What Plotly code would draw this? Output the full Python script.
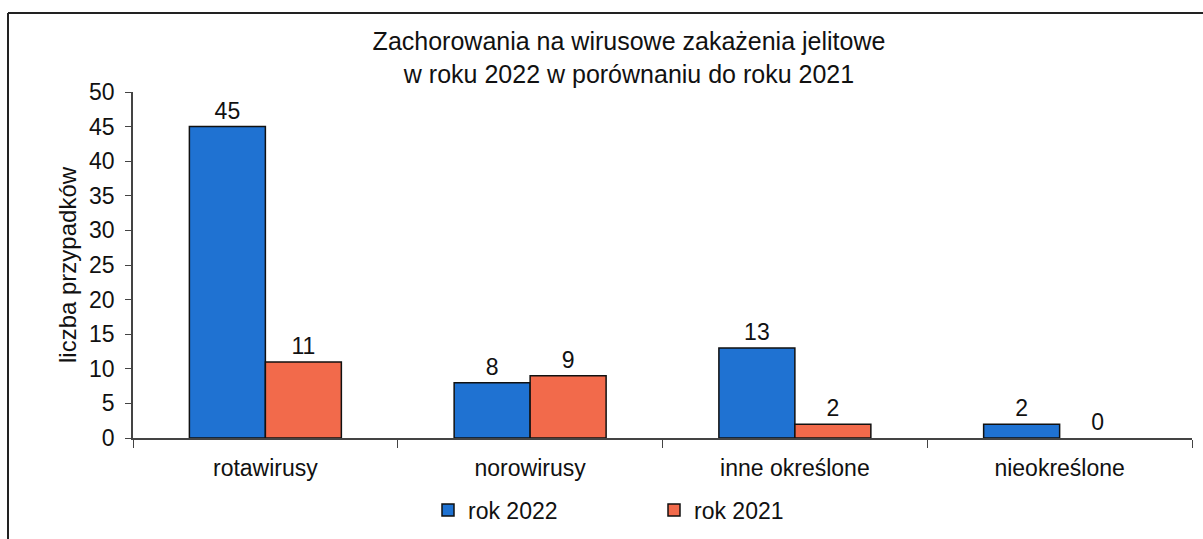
import plotly.graph_objects as go

categories = ["rotawirusy", "norowirusy", "inne określone", "nieokreślone"]
rok_2022 = [45, 8, 13, 2]
rok_2021 = [11, 9, 2, 0]
series_names = ["rok 2022", "rok 2021"]
y_ticks = [0, 5, 10, 15, 20, 25, 30, 35, 40, 45, 50]

FONT = "Liberation Sans, Arial, sans-serif"
BLUE = "#1f72d2"
ORANGE = "#f26a4b"

W, H = 1203, 539
L, R, T, B = 133, 11, 92, 101
pw, ph = W - L - R, H - T - B


def outline_widths(values):
    return [1.5 if v else 0 for v in values]


fig = go.Figure()
fig.add_trace(go.Bar(
    x=categories, y=rok_2022, name=series_names[0],
    marker=dict(color=BLUE, line=dict(color="#111111", width=outline_widths(rok_2022))),
    text=rok_2022, textposition="outside", cliponaxis=False,
    textfont=dict(size=23, color="#111111", family=FONT),
))
fig.add_trace(go.Bar(
    x=categories, y=rok_2021, name=series_names[1],
    marker=dict(color=ORANGE, line=dict(color="#111111", width=outline_widths(rok_2021))),
    text=rok_2021, textposition="outside", cliponaxis=False,
    textfont=dict(size=23, color="#111111", family=FONT),
))


def px_x(p):
    return (p - L) / pw


def px_y(p):
    return (H - B - p) / ph


# outer border (top and left visible)
fig.add_shape(type="line", xref="paper", yref="paper",
              x0=px_x(8), x1=px_x(1215), y0=px_y(13), y1=px_y(13),
              line=dict(color="#222222", width=2))
fig.add_shape(type="line", xref="paper", yref="paper",
              x0=px_x(8), x1=px_x(8), y0=px_y(13), y1=px_y(560),
              line=dict(color="#222222", width=2))

fig.update_layout(
    width=W, height=H,
    margin=dict(l=L, r=R, t=T, b=B, autoexpand=False),
    paper_bgcolor="white", plot_bgcolor="white",
    font=dict(family=FONT, size=23, color="#111111"),
    barmode="group", bargap=0.426, bargroupgap=0,
    title=dict(
        text="Zachorowania na wirusowe zakażenia jelitowe<br>w roku 2022 w porównaniu do roku 2021",
        x=629 / W, xanchor="center", y=1 - 50 / H, yanchor="top",
        font=dict(size=25, family=FONT, color="#111111"),
    ),
    xaxis=dict(
        showline=True, linecolor="#444444", linewidth=1.5,
        ticks="outside", tickson="boundaries", ticklen=8, tickcolor="#444444",
        ticklabelstandoff=9,
        tickfont=dict(size=23, family=FONT), showgrid=False,
    ),
    yaxis=dict(
        range=[0, 50], tickvals=y_ticks, showline=True, linecolor="#444444",
        linewidth=1.5, ticks="outside", ticklen=6, tickcolor="#444444",
        ticklabelstandoff=6,
        tickfont=dict(size=23, family=FONT), showgrid=False, zeroline=False,
        title=dict(text="liczba przypadków", font=dict(size=24, family=FONT), standoff=6),
    ),
    legend=dict(
        orientation="h", x=(428 - L) / pw, xanchor="left",
        y=px_y(510), yanchor="middle",
        font=dict(size=23, family=FONT), entrywidth=181,
        bgcolor="rgba(0,0,0,0)",
    ),
)

fig.write_html(
    "out.html",
    config={"displayModeBar": False},
    post_script="document.body.style.margin='0';document.body.style.overflow='hidden';",
)
